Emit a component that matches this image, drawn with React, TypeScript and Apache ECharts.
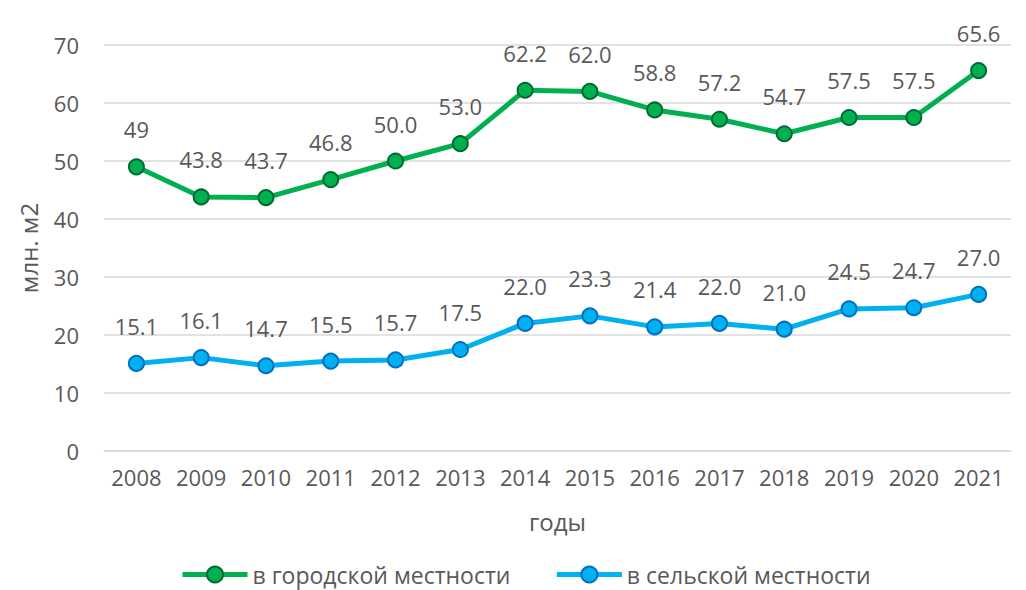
import React, { useEffect, useRef } from "react";
import * as echarts from "echarts";

const years = ["2008","2009","2010","2011","2012","2013","2014","2015","2016","2017","2018","2019","2020","2021"];
const urban = [49, 43.8, 43.7, 46.8, 50.0, 53.0, 62.2, 62.0, 58.8, 57.2, 54.7, 57.5, 57.5, 65.6];
const urbanLabels = ["49","43.8","43.7","46.8","50.0","53.0","62.2","62.0","58.8","57.2","54.7","57.5","57.5","65.6"];
const rural = [15.1, 16.1, 14.7, 15.5, 15.7, 17.5, 22.0, 23.3, 21.4, 22.0, 21.0, 24.5, 24.7, 27.0];
const ruralLabels = ["15.1","16.1","14.7","15.5","15.7","17.5","22.0","23.3","21.4","22.0","21.0","24.5","24.7","27.0"];

export default function App() {
  const ref = useRef<HTMLDivElement>(null);
  useEffect(() => {
    if (!ref.current) return;
    const chart = echarts.init(ref.current, null, { renderer: "svg" });
    const font = "Open Sans, Noto Sans, sans-serif";
    const grey = "#595959";
    chart.setOption({
      animation: false,
      textStyle: { fontFamily: font },
      grid: { left: 91, right: 7, top: 37, bottom: 139 },
      legend: {
        top: 550,
        left: 167,
        itemWidth: 65,
        itemHeight: 20,
        itemGap: 44,
        lineStyle: { width: 5 },
        textStyle: { fontSize: 23, color: grey, fontFamily: font },
        data: ["в городской местности", "в сельской местности"],
      },
      xAxis: {
        type: "category",
        data: years,
        name: "годы",
        nameLocation: "middle",
        nameGap: 58,
        nameTextStyle: { fontSize: 24, color: grey },
        axisLine: { lineStyle: { color: "#d9d9d9", width: 1.5 } },
        axisTick: { show: false },
        axisLabel: { fontSize: 22, color: grey, margin: 15, interval: 0 },
      },
      yAxis: {
        type: "value",
        min: 0,
        max: 70,
        interval: 10,
        name: "млн. м2",
        nameLocation: "middle",
        nameGap: 64,
        nameTextStyle: { fontSize: 24, color: grey },
        axisLine: { show: false },
        axisTick: { show: false },
        axisLabel: { fontSize: 22, color: grey, margin: 25 },
        splitLine: { lineStyle: { color: "#d9d9d9", width: 1.5 } },
      },
      series: [
        {
          name: "в городской местности",
          type: "line",
          data: urban,
          symbol: "circle",
          symbolSize: 15,
          lineStyle: { color: "#00B050", width: 5 },
          itemStyle: { color: "#00B050", borderColor: "#006b30", borderWidth: 2 },
          label: {
            show: true,
            position: "top",
            distance: 18,
            fontSize: 22,
            color: grey,
            formatter: (p: any) => urbanLabels[p.dataIndex],
          },
        },
        {
          name: "в сельской местности",
          type: "line",
          data: rural,
          symbol: "circle",
          symbolSize: 15,
          lineStyle: { color: "#00B0F0", width: 5 },
          itemStyle: { color: "#00B0F0", borderColor: "#0070C0", borderWidth: 2 },
          label: {
            show: true,
            position: "top",
            distance: 18,
            fontSize: 22,
            color: grey,
            formatter: (p: any) => ruralLabels[p.dataIndex],
          },
        },
      ],
    });
    return () => chart.dispose();
  }, []);
  return <div ref={ref} style={{ width: 1010, height: 582 }} />;
}
